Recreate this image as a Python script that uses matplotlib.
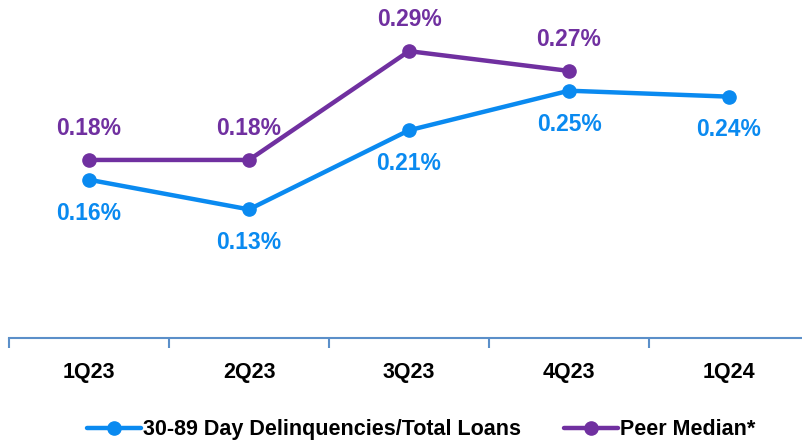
import matplotlib.pyplot as plt
from matplotlib import font_manager

# data
quarters = ["1Q23", "2Q23", "3Q23", "4Q23", "1Q24"]
delinq = [0.16, 0.13, 0.21, 0.25, 0.244]
peer = [0.18, 0.18, 0.29, 0.27]
delinq_lbl = ["0.16%", "0.13%", "0.21%", "0.25%", "0.24%"]
peer_lbl = ["0.18%", "0.18%", "0.29%", "0.27%"]

names = [f.name for f in font_manager.fontManager.ttflist]
fam = "Liberation Sans Narrow" if "Liberation Sans Narrow" in names else "Liberation Sans"
plt.rcParams['font.family'] = [fam, 'DejaVu Sans']
plt.rcParams['font.weight'] = 'bold'

blue = "#0A8AF0"
purple = "#7030A0"

fig = plt.figure(figsize=(8.02, 4.44), dpi=100)
ax = fig.add_axes([9/802, 106/444, 800/802, 338/444])

x = list(range(len(quarters)))
ax.plot(x, delinq, color=blue, lw=3.2, marker='o', ms=9.5, label="30-89 Day Delinquencies/Total Loans", solid_capstyle='round')
ax.plot(x[:len(peer)], peer, color=purple, lw=3.2, marker='o', ms=9.5, label="Peer Median*", solid_capstyle='round')

for i, v in enumerate(delinq):
    ax.annotate(delinq_lbl[i], (i, v), xytext=(0, -24), textcoords='offset points',
                ha='center', va='center', color=blue, fontsize=16.5, fontweight='bold')
for i, v in enumerate(peer):
    ax.annotate(peer_lbl[i], (i, v), xytext=(0, 22.5), textcoords='offset points',
                ha='center', va='center', color=purple, fontsize=16.5, fontweight='bold')

ax.set_xlim(-0.5, 4.5)
ax.set_ylim(0, 0.3417)
for s in ['top', 'right', 'left']:
    ax.spines[s].set_visible(False)
ax.spines['bottom'].set_color("#5B8FC9")
ax.spines['bottom'].set_linewidth(1.5)
ax.set_yticks([])
ax.set_xticks([-0.5, 0.5, 1.5, 2.5, 3.5, 4.5])
ax.set_xticklabels([])
ax.set_xticks(x, minor=True)
ax.set_xticklabels(quarters, minor=True, fontsize=15.5, fontweight='bold')
ax.tick_params(axis='x', which='major', direction='out', length=7, width=1.5, color="#5B8FC9")
ax.tick_params(axis='x', which='minor', length=0, pad=17)

ax.legend(loc='center', bbox_to_anchor=(0.515, -0.272), ncol=2, frameon=False,
          handlelength=2.5, handletextpad=0.1, columnspacing=2.0,
          prop={'weight': 'bold', 'size': 15.5})

fig.savefig("out.png", dpi=100)
